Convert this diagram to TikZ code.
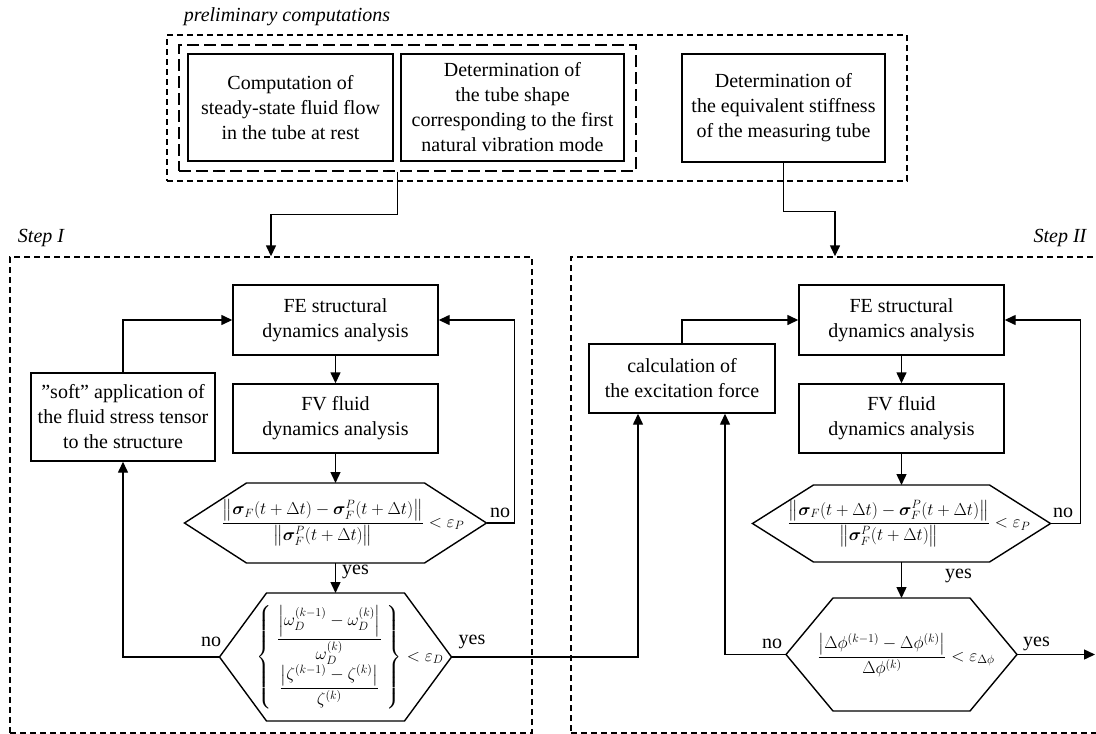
\documentclass[tikz,border=0pt]{standalone}
\usepackage{amsmath}
\usepackage{bm}
\usepackage{fontspec}
\setmainfont{Liberation Serif}
\usetikzlibrary{arrows.meta}

\begin{document}
\begin{tikzpicture}[x=1pt, y=-1pt, line width=1.4pt,
    >={Triangle[length=11pt, width=10pt]},
    font=\fontsize{20}{25}\selectfont,
    box/.style={draw, align=center, inner sep=0pt},
    dashframe/.style={draw, dash pattern=on 6pt off 4pt, inner sep=0pt},
    formula/.style={font=\fontsize{17}{20}\selectfont, inner sep=0pt}]
    \useasboundingbox (0, 0) rectangle (1096, 734);
    \node (prelim) at (287, 17) {\itshape preliminary computations};
    \node [dashframe, minimum width=740, minimum height=146] (outer) at (537, 108) {};
    \node [draw, dash pattern=on 12pt off 5pt, minimum width=457, minimum height=126] (inner) at (407.5, 108) {};
    \node [box, minimum width=205, minimum height=107] (flow) at (290.5, 107.5) {Computation of\\steady-state fluid flow\\in the tube at rest};
    \node [box, minimum width=223, minimum height=107] (shape) at (512.5, 107.5) {Determination of\\the tube shape\\corresponding to the first\\natural vibration mode};
    \node [box, minimum width=203, minimum height=108] (stiff) at (783.5, 108) {Determination of\\the equivalent stiffness\\of the measuring tube};
    \node [dashframe, minimum width=522, minimum height=476] (stepa) at (271, 495) {};
    \node [dashframe, minimum width=528, minimum height=476] (stepb) at (835, 495) {};
    \node (labela) at (41, 238) {\itshape Step I};
    \node (labelb) at (1060, 238) {\itshape Step II};
    \draw [->] ([xshift=-10pt]inner.south) -- ++(0, 43) -| (stepa.north);
    \draw [->] (stiff.south) -- ++(0, 49) -| (stepb.north);
    \node [box, minimum width=205, minimum height=70] (fea) at (335.5, 320) {FE structural\\dynamics analysis};
    \node [box, minimum width=205, minimum height=69] (fva) at (335.5, 418.5) {FV fluid\\dynamics analysis};
    \node [box, minimum width=184, minimum height=88] (soft) at (123, 417) {''soft'' application of\\the fluid stress tensor\\to the structure};
    \node [formula] (hpa) at (343, 523) {$\dfrac{\left\|\bm{\sigma}_F(t+\Delta t)-\bm{\sigma}_F^P(t+\Delta t)\right\|}{\left\|\bm{\sigma}_F^P(t+\Delta t)\right\|}<\varepsilon_P$};
    \draw (184.5, 523) coordinate (hpaw) -- ++(62, -40) -- ++(178, 0) -- ++(62, 40) coordinate (hpae) -- ++(-62, 40) -- ++(-178, 0) -- cycle;
    \coordinate (hpan) at (335.5, 483);
    \coordinate (hpas) at (335.5, 563);
    \node [formula] (hqa) at (350, 657) {$\left\{\begin{array}{c}\dfrac{\left|\omega_D^{(k-1)}-\omega_D^{(k)}\right|}{\omega_D^{(k)}}\\[5pt]\dfrac{\left|\zeta^{(k-1)}-\zeta^{(k)}\right|}{\zeta^{(k)}}\end{array}\right\}<\varepsilon_D$};
    \draw (219.5, 657) coordinate (hqaw) -- ++(47, -64) -- ++(138, 0) -- ++(47, 64) coordinate (hqae) -- ++(-47, 64) -- ++(-138, 0) -- cycle;
    \coordinate (hqan) at (335.5, 593);
    \draw [->] (fea) -- (fva);
    \draw [->] (fva) -- (hpan);
    \draw [->] (hpas) -- (hqan);
    \draw [->] (hpae) -- ++(28, 0) |- (fea);
    \draw [->] (soft) |- (fea);
    \draw [->] (hqaw) -| (soft);
    \node (noa) at (500, 513) {no};
    \node (yesa) at (355.5, 572) {yes};
    \node (nob) at (211, 642) {no};
    \node (yesb) at (472, 642) {yes};
    \node [box, minimum width=205, minimum height=70] (feb) at (901.5, 320) {FE structural\\dynamics analysis};
    \node [box, minimum width=205, minimum height=69] (fvb) at (901.5, 418.5) {FV fluid\\dynamics analysis};
    \node [box, minimum width=186, minimum height=69] (force) at (682, 378.5) {calculation of\\the excitation force};
    \node [formula] (hpb) at (909, 523.5) {$\dfrac{\left\|\bm{\sigma}_F(t+\Delta t)-\bm{\sigma}_F^P(t+\Delta t)\right\|}{\left\|\bm{\sigma}_F^P(t+\Delta t)\right\|}<\varepsilon_P$};
    \draw (752.5, 523.5) coordinate (hpbw) -- ++(61, -38.5) -- ++(176, 0) -- ++(61, 38.5) coordinate (hpbe) -- ++(-61, 38.5) -- ++(-176, 0) -- cycle;
    \coordinate (hpbn) at (901.5, 485);
    \coordinate (hpbs) at (901.5, 562);
    \node [formula] (hqb) at (906, 655) {$\dfrac{\left|\Delta\phi^{(k-1)}-\Delta\phi^{(k)}\right|}{\Delta\phi^{(k)}}<\varepsilon_{\Delta\phi}$};
    \draw (786, 654.5) coordinate (hqbw) -- ++(47, -56.5) -- ++(137, 0) -- ++(47, 56.5) coordinate (hqbe) -- ++(-47, 56.5) -- ++(-137, 0) -- cycle;
    \coordinate (hqbn) at (901.5, 598);
    \coordinate (out) at (1095, 654.5);
    \draw [->] (hqae) -| ([xshift=-44pt]force.south);
    \draw [->] (force) |- (feb);
    \draw [->] (feb) -- (fvb);
    \draw [->] (fvb) -- (hpbn);
    \draw [->] (hpbs) -- (hqbn);
    \draw [->] (hpbe) -- ++(30, 0) |- (feb);
    \draw [->] (hqbw) -| ([xshift=43pt]force.south);
    \draw [->] (hqbe) -- (out);
    \node (noc) at (1063, 513) {no};
    \node (yesc) at (958.5, 576) {yes};
    \node (nod) at (772, 644) {no};
    \node (yesd) at (1036.5, 644) {yes};
\end{tikzpicture}
\end{document}
